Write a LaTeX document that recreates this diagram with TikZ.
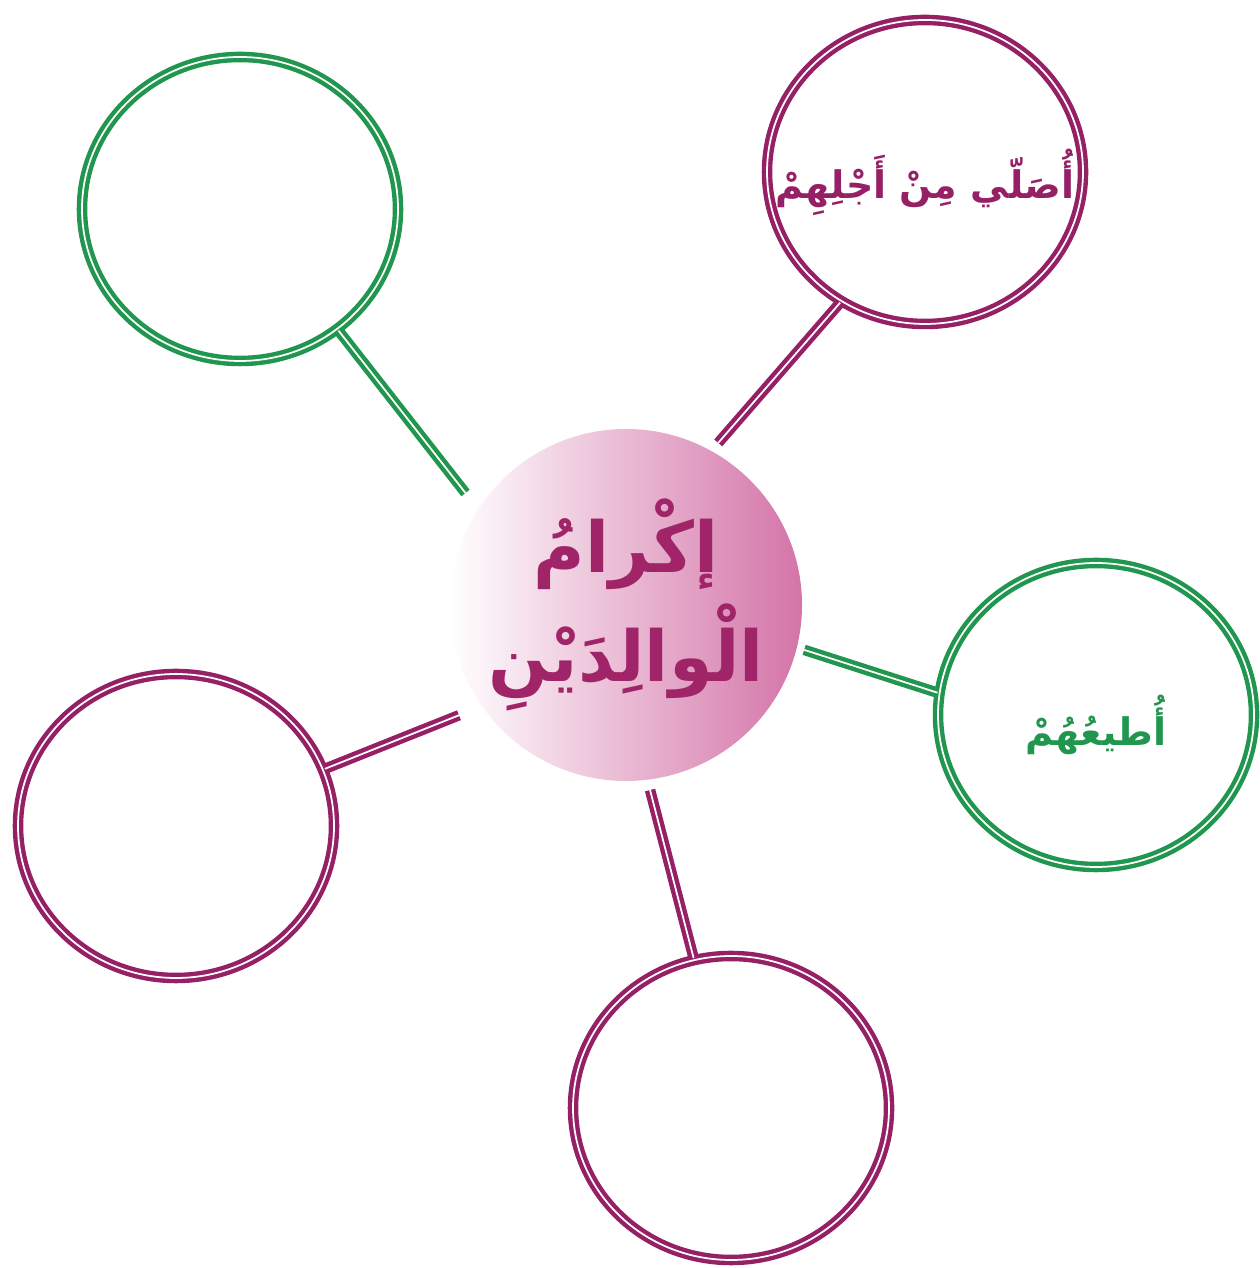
\documentclass[tikz,border=0pt]{standalone}
\usepackage{fontspec}
\usepackage{tikz}
\usetikzlibrary{shapes,positioning,calc}
\TeXXeTstate=1
\newfontfamily\arabicfont[Script=Arabic]{DejaVu Sans}
\definecolor{leafgreen}{RGB}{32,150,78}
\definecolor{leafpurple}{RGB}{150,32,102}
\definecolor{hubtext}{RGB}{160,36,104}
\definecolor{hubpink}{RGB}{212,116,168}
\definecolor{hubmid}{RGB}{242,206,226}
\tikzstyle{hub} = [circle, minimum size=3.52cm, inner sep=0pt, align=center, left color=white, middle color=hubmid, right color=hubpink, text=hubtext, font=\arabicfont\bfseries\fontsize{20}{31}\selectfont]
\tikzstyle{leaf} = [ellipse, minimum width=3.16cm, minimum height=3.04cm, inner sep=0pt, line width=1.25pt, double=white, double distance=0.5pt]
\tikzstyle{leafg} = [leaf, draw=leafgreen, label={[text=leafgreen, font=\arabicfont\bfseries\fontsize{10.8}{14}\selectfont, yshift=-0.1cm]center:#1}]
\tikzstyle{leafp} = [leaf, draw=leafpurple, label={[text=leafpurple, font=\arabicfont\bfseries\fontsize{10.8}{14}\selectfont, yshift=-0.1cm]center:#1}]
\tikzstyle{link} = [line width=1.25pt, double=white, double distance=0.5pt]
\begin{document}
\begin{tikzpicture}
\useasboundingbox (0,0) rectangle (12.59,12.68);

% Centre
\node (hub) [hub] at (6.26,6.63) {\beginR إكْرامُ\endR\\\beginR الْوالِدَيْنِ\endR};

% Bulles
\node (bullehg) [leafg={}] at (2.40,10.59) {};
\node (bullehd) [leafp={\beginR أُصَلّي مِنْ أَجْلِهِمْ\endR}] at (9.25,10.96) {};
\node (bulled) [leafg={\beginR أُطيعُهُمْ\endR}] at (10.96,5.53) {};
\node (bulleg) [leafp={}] at (1.76,4.42) {};
\node (bulleb) [leafp={}] at (7.31,1.60) {};

% Liens
\draw [link, draw=leafgreen, shorten <=0.2cm] (hub.147) -- (bullehg.-51);
\draw [link, draw=leafpurple, shorten <=0.1cm] (hub.61) -- (bullehd.-123);
\draw [link, draw=leafgreen, shorten <=0.07cm] (hub.-14) -- (bulled.172);
\draw [link, draw=leafpurple, shorten <=0.24cm] (hub.215) -- (bulleg.21);
\draw [link, draw=leafpurple, shorten <=0.1cm] (hub.-83) -- (bulleb.104);

\end{tikzpicture}
\end{document}
